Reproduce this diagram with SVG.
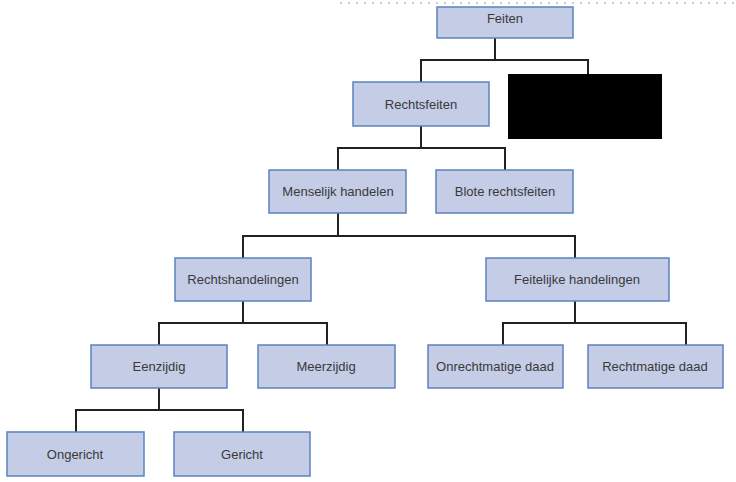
<svg xmlns="http://www.w3.org/2000/svg" width="736" height="482" viewBox="0 0 736 482">
<style>
.n rect{fill:#c4cce6;stroke:#5a82c0;stroke-width:1.5}
.n text{font-family:"Liberation Sans",Arial,sans-serif;font-size:13px;fill:#3a3a3a;text-anchor:middle;dominant-baseline:central}
.c path{fill:none;stroke:#222;stroke-width:2}
</style>
<rect width="736" height="482" fill="#fff"/>
<line x1="340" y1="3" x2="736" y2="3" stroke="#ccc" stroke-width="2" stroke-dasharray="2,6"/>
<g class="c">
<path d="M495 38V60M421 82V60H588V82"/>
<path d="M421 126V148M338 170V148H505V170"/>
<path d="M338 213V236M243 258V236H575V258"/>
<path d="M243 301V323M159 345V323H327V345"/>
<path d="M575 301V323M503 345V323H686V345"/>
<path d="M159 388V410M76 432V410H243V432"/>
</g>
<g id="feiten" class="n"><rect x="437" y="7" width="136" height="31"/><text x="505" y="18">Feiten</text></g>
<g id="rechtsfeiten" class="n"><rect x="353" y="82" width="136" height="44"/><text x="421" y="104">Rechtsfeiten</text></g>
<rect x="508" y="74" width="154" height="65" fill="#000"/>
<g id="menselijk" class="n"><rect x="269" y="170" width="137" height="43"/><text x="338" y="191">Menselijk handelen</text></g>
<g id="blote" class="n"><rect x="436" y="170" width="137" height="43"/><text x="505" y="191">Blote rechtsfeiten</text></g>
<g id="rechtshandelingen" class="n"><rect x="175" y="258" width="136" height="43"/><text x="243" y="279">Rechtshandelingen</text></g>
<g id="feitelijke" class="n"><rect x="486" y="258" width="183" height="43"/><text x="577" y="279">Feitelijke handelingen</text></g>
<g id="eenzijdig" class="n"><rect x="91" y="345" width="136" height="43"/><text x="159" y="366">Eenzijdig</text></g>
<g id="meerzijdig" class="n"><rect x="258" y="345" width="137" height="43"/><text x="326" y="366">Meerzijdig</text></g>
<g id="onrechtmatig" class="n"><rect x="428" y="345" width="135" height="43"/><text x="495" y="366">Onrechtmatige daad</text></g>
<g id="rechtmatig" class="n"><rect x="588" y="345" width="135" height="43"/><text x="655" y="366">Rechtmatige daad</text></g>
<g id="ongericht" class="n"><rect x="7" y="432" width="137" height="44"/><text x="75" y="454">Ongericht</text></g>
<g id="gericht" class="n"><rect x="174" y="432" width="136" height="44"/><text x="242" y="454">Gericht</text></g>
</svg>
